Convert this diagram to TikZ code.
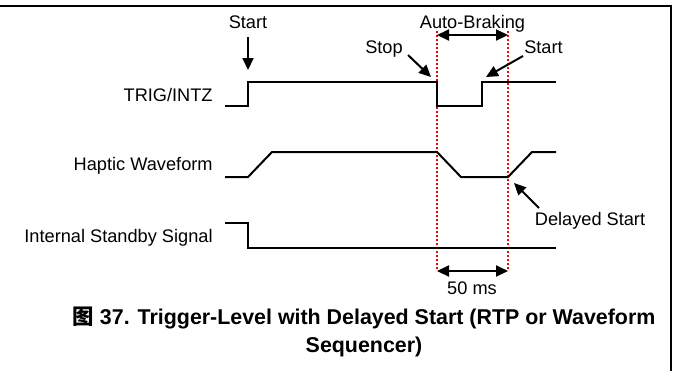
\documentclass[tikz,border=0pt]{standalone}
\usepackage{fontspec}
\setmainfont{Liberation Sans}
\newfontfamily\cjk{Noto Sans CJK SC}
\usetikzlibrary{arrows.meta}
\tikzset{
  lbl/.style={inner sep=0pt, font=\fontsize{9.1}{11}\selectfont},
  sig/.style={line width=1pt, line join=miter},
  arr/.style={line width=1pt, -{Triangle[length=6pt,width=5.5pt]}},
  darr/.style={line width=1pt, {Triangle[length=6pt,width=5.5pt]}-{Triangle[length=6pt,width=5.5pt]}},
  redline/.style={red, line width=0.7pt, dash pattern=on 1pt off 1pt},
  captxt/.style={inner sep=0pt, font=\fontsize{10.7}{13}\selectfont\bfseries}
}
\begin{document}
\begin{tikzpicture}[x=0.5pt, y=-0.5pt]
\useasboundingbox (0,0) rectangle (674,371);
% frame
\draw[line width=1pt] (0,6) -- (671,6) -- (671,371);
% labels
\node[lbl, anchor=base east] (trig) at (213,101) {TRIG/INTZ};
\node[lbl, anchor=base east] (hapt) at (213,170) {Haptic Waveform};
\node[lbl, anchor=base east] (stby) at (213,242) {Internal Standby Signal};
\node[lbl, anchor=base] (start1) at (248,28) {Start};
\node[lbl, anchor=base] (ab) at (472.5,28) {Auto-Braking};
\node[lbl, anchor=base] (stop) at (384,53) {Stop};
\node[lbl, anchor=base] (start2) at (543.5,53) {Start};
\node[lbl, anchor=base] (dstart) at (590,225) {Delayed Start};
\node[lbl, anchor=base] (ms) at (472,294) {50 ms};
\node[captxt, anchor=base] (cap1) at (364,324) {{\cjk\bfseries 图} 37. Trigger-Level with Delayed Start (RTP or Waveform};
\node[captxt, anchor=base] (cap2) at (364,352) {Sequencer)};
% red dotted markers
\coordinate (r1t) at (437,31); \coordinate (r1b) at (437,270);
\coordinate (r2t) at (508,31); \coordinate (r2b) at (508,270);
\draw[redline] (r1t) -- (r1b);
\draw[redline] (r2t) -- (r2b);
% signals
\draw[sig] (225,106) -- (248,106) -- (248,82) -- (437,82) -- (437,106) -- (482,106) -- (482,82) -- (556,82);
\draw[sig] (225,177) -- (248,177) -- (272,152) -- (437,152) -- (461,177) -- (508,177) -- (532,152) -- (556,152);
\draw[sig] (225,223) -- (248,223) -- (248,248) -- (556,248);
% arrows
\coordinate (s1tip) at (248,70);
\draw[arr] (248,37) -- (s1tip);
\coordinate (ab1) at (437,35); \coordinate (ab2) at (508,35);
\draw[darr] (ab1) -- (ab2);
\coordinate (ms1) at (437,271); \coordinate (ms2) at (508,271);
\draw[darr] (ms1) -- (ms2);
\coordinate (stoptip) at (431,77);
\draw[arr] (408,55) -- (stoptip);
\coordinate (st2tip) at (486,77);
\draw[arr] (523,56) -- (st2tip);
\coordinate (dstip) at (514,183);
\draw[arr] (539,208) -- (dstip);
\end{tikzpicture}
\end{document}
